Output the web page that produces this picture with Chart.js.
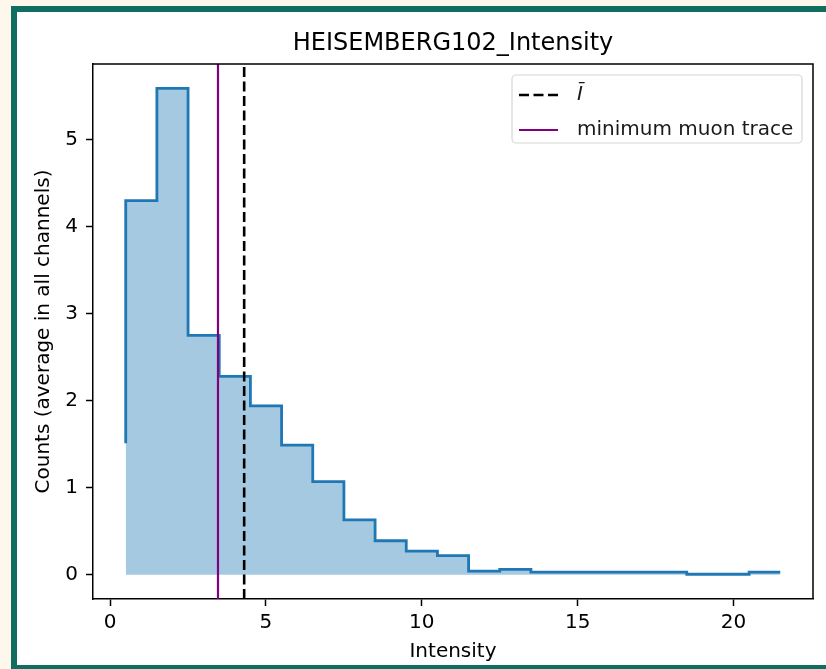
<!DOCTYPE html>
<html>
<head>
<meta charset="utf-8">
<script src="https://cdn.jsdelivr.net/npm/chart.js@4.4.1/dist/chart.umd.min.js"></script>
<style>
  html, body { margin: 0; padding: 0; background: #fef8ec; overflow: hidden; }
  #frame {
    position: absolute; left: 11px; top: 6px; width: 830px; height: 665px;
    border: 6px solid #0f6e5f; background: #ffffff; box-sizing: border-box;
  }
  #wrap { position: absolute; left: 0; top: 0; width: 826px; height: 669px; }
</style>
</head>
<body>
<div id="frame"></div>
<div id="wrap"><canvas id="chart" width="826" height="669"></canvas></div>
<script>
// Histogram bins (unit width) and the average counts per bin
const binEdges = [0.5, 1.5, 2.5, 3.5, 4.5, 5.5, 6.5, 7.5, 8.5, 9.5, 10.5,
  11.5, 12.5, 13.5, 14.5, 15.5, 16.5, 17.5, 18.5, 19.5, 20.5, 21.5];
const counts = [4.30, 5.59, 2.75, 2.28, 1.94, 1.49, 1.07, 0.63, 0.39, 0.27,
  0.22, 0.04, 0.06, 0.03, 0.03, 0.03, 0.03, 0.03, 0.005, 0.005, 0.03];
// the step trace starts a bit above zero on the first edge
const traceStart = 1.51;

// reference lines
const meanIntensity = 4.30;
const muonTrace = 3.46;

const titleText = "HEISEMBERG102_Intensity";
const xLabel = "Intensity";
const yLabel = "Counts (average in all channels)";
const legendLabels = ["\u012A", "minimum muon trace"];

const FONT = "'DejaVu Sans', sans-serif";
const BLUE = "#1f77b4";
const PURPLE = "#800080";

// axis limits with a 5% margin like matplotlib
const xSpan = binEdges[binEdges.length - 1] - binEdges[0];
const xMin = binEdges[0] - 0.05 * xSpan;
const xMax = binEdges[binEdges.length - 1] + 0.05 * xSpan;
const yTop = Math.max(...counts);
const yMin = -0.05 * yTop;
const yMax = yTop * 1.05;

// points on the left edge of each bin, plus the closing right edge
const stepPoints = binEdges.map((x, i) => ({
  x: x,
  y: counts[Math.min(i, counts.length - 1)],
}));
const tracePoints = [{ x: binEdges[0], y: traceStart }, ...stepPoints];

// top and right spines
const spinesPlugin = {
  id: "spines",
  afterDraw(chart) {
    const { ctx, chartArea: a } = chart;
    ctx.save();
    ctx.strokeStyle = "#000";
    ctx.lineWidth = 1.5;
    ctx.beginPath();
    ctx.moveTo(a.left, a.top);
    ctx.lineTo(a.right, a.top);
    ctx.lineTo(a.right, a.bottom);
    ctx.stroke();
    ctx.restore();
  },
};

// title centred over the axes
const axesTitlePlugin = {
  id: "axesTitle",
  afterDraw(chart) {
    const { ctx, chartArea: a } = chart;
    ctx.save();
    ctx.fillStyle = "#000";
    ctx.font = "24px " + FONT;
    ctx.textAlign = "center";
    ctx.textBaseline = "middle";
    ctx.fillText(titleText, (a.left + a.right) / 2, 44);
    ctx.restore();
  },
};

// legend box in the upper right corner of the axes
const legendBoxPlugin = {
  id: "legendBox",
  afterDraw(chart) {
    const { ctx, chartArea: a } = chart;
    const w = 290, h = 68;
    const x = a.right - 11 - w, y = a.top + 11;
    ctx.save();
    ctx.fillStyle = "rgba(255,255,255,0.8)";
    ctx.strokeStyle = "#d6d6d6";
    ctx.lineWidth = 1.2;
    ctx.beginPath();
    ctx.roundRect(x, y, w, h, 4);
    ctx.fill();
    ctx.stroke();

    const rows = [
      { color: "#000", dash: [10, 4.5], width: 2.6, label: legendLabels[0], italic: true },
      { color: PURPLE, dash: [], width: 2.2, label: legendLabels[1], italic: false },
    ];
    rows.forEach((r, i) => {
      const cy = y + 20 + i * 35;
      ctx.strokeStyle = r.color;
      ctx.lineWidth = r.width;
      ctx.setLineDash(r.dash);
      ctx.beginPath();
      ctx.moveTo(x + 7, cy);
      ctx.lineTo(x + 46, cy);
      ctx.stroke();
      ctx.setLineDash([]);
      ctx.fillStyle = "#1a1a1a";
      ctx.font = (r.italic ? "italic " : "") + "20px " + FONT;
      ctx.textAlign = "left";
      ctx.textBaseline = "middle";
      ctx.fillText(r.label, x + 65, cy);
    });
    ctx.restore();
  },
};

const ctx = document.getElementById("chart").getContext("2d");

new Chart(ctx, {
  type: "scatter",
  data: {
    datasets: [
      {
        label: "fill",
        data: stepPoints,
        showLine: true,
        stepped: true,
        fill: "origin",
        backgroundColor: "rgba(31,119,180,0.4)",
        borderWidth: 0,
        pointRadius: 0,
        order: 4,
      },
      {
        label: "trace",
        data: tracePoints,
        showLine: true,
        stepped: true,
        fill: false,
        borderColor: BLUE,
        borderWidth: 2.8,
        pointRadius: 0,
        order: 3,
      },
      {
        label: legendLabels[0],
        data: [{ x: meanIntensity, y: yMin }, { x: meanIntensity, y: yMax }],
        showLine: true,
        borderColor: "#000",
        borderDash: [10, 4.5],
        borderWidth: 2.6,
        pointRadius: 0,
        order: 2,
      },
      {
        label: legendLabels[1],
        data: [{ x: muonTrace, y: yMin }, { x: muonTrace, y: yMax }],
        showLine: true,
        borderColor: PURPLE,
        borderWidth: 2.2,
        pointRadius: 0,
        order: 1,
      },
    ],
  },
  options: {
    responsive: false,
    animation: false,
    layout: { padding: { top: 64, right: 13, left: 0, bottom: 0 } },
    plugins: {
      legend: { display: false },
      title: { display: false },
      tooltip: { enabled: false },
    },
    scales: {
      x: {
        type: "linear",
        min: xMin,
        max: xMax,
        ticks: {
          stepSize: 5,
          includeBounds: false,
          color: "#000",
          font: { family: FONT, size: 20 },
          padding: 5,
          maxRotation: 0,
        },
        grid: {
          drawOnChartArea: false,
          drawTicks: true,
          tickLength: 7,
          tickWidth: 1.5,
          tickColor: "#000",
        },
        border: { color: "#000", width: 1.5 },
        title: {
          display: true,
          text: xLabel,
          color: "#000",
          font: { family: FONT, size: 20 },
          padding: { top: 0, bottom: 5 },
        },
        afterFit(scale) {
          scale.height = 70;
        },
      },
      y: {
        type: "linear",
        min: yMin,
        max: yMax,
        ticks: {
          stepSize: 1,
          includeBounds: false,
          color: "#000",
          font: { family: FONT, size: 20 },
          padding: 8,
        },
        grid: {
          drawOnChartArea: false,
          drawTicks: true,
          tickLength: 7,
          tickWidth: 1.5,
          tickColor: "#000",
        },
        border: { color: "#000", width: 1.5 },
        title: {
          display: true,
          text: yLabel,
          color: "#000",
          font: { family: FONT, size: 20 },
          padding: { top: 32, bottom: 0 },
        },
        afterFit(scale) {
          scale.width = 93;
        },
      },
    },
  },
  plugins: [spinesPlugin, axesTitlePlugin, legendBoxPlugin],
});
</script>
</body>
</html>
